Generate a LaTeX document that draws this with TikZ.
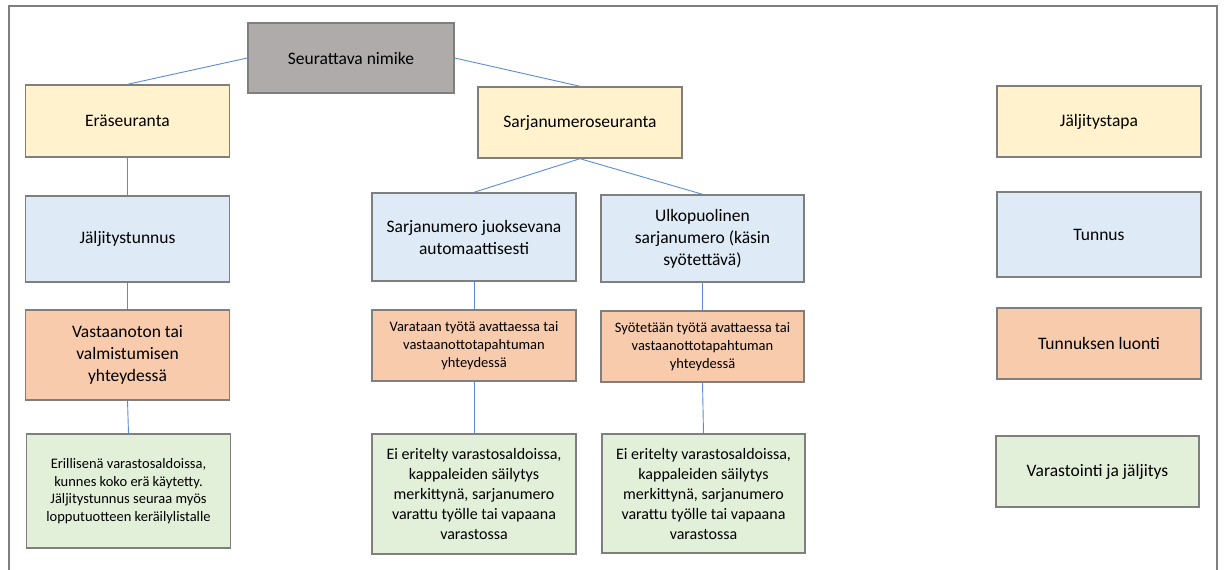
\documentclass[tikz,border=0pt]{standalone}
\usepackage{fontspec}
\setmainfont{Carlito}
\usepackage{xcolor}
\usepackage{tikz}
\usetikzlibrary{positioning}

\definecolor{boxgray}{HTML}{AFABAB}
\definecolor{boxyellow}{HTML}{FFF2CC}
\definecolor{boxblue}{HTML}{DEEBF7}
\definecolor{boxorange}{HTML}{F8CBAD}
\definecolor{boxgreen}{HTML}{E2F0D9}
\definecolor{edgegray}{HTML}{7F7F7F}
\definecolor{linkblue}{HTML}{5B8BD6}

\begin{document}
\begin{tikzpicture}[
    x=1pt, y=-1pt,
    box/.style={rectangle, draw=edgegray, line width=1.4pt, inner sep=2pt,
                minimum width=204pt, align=center,
                font=\fontsize{17.5}{22}\selectfont},
    smalltxt/.style={font=\fontsize{14.5}{17.7}\selectfont},
    midtxt/.style={font=\fontsize{16}{20}\selectfont},
    link/.style={draw=linkblue, line width=0.9pt}
]
\useasboundingbox (0,0) rectangle (1224,570);

% outer frame (open at the bottom)
\draw[edgegray, line width=1.2pt] (9,575) -- (9,6) -- (1217,6) -- (1217,575);

% root
\node[box, fill=boxgray, minimum width=206pt, minimum height=70pt] (root) at (351,58) {Seurattava nimike};

% tracking methods
\node[box, fill=boxyellow, minimum height=72pt] (era)   at (127.5,121) {Eräseuranta};
\node[box, fill=boxyellow, minimum height=71pt] (sarja) at (580,122.5) {Sarjanumeroseuranta};

% identifiers
\node[box, fill=boxblue, minimum height=86pt] (jtunnus) at (127.5,239) {Jäljitystunnus};
\node[box, fill=boxblue, minimum height=88pt] (juoks)   at (474,237)   {Sarjanumero juoksevana\\automaattisesti};
\node[box, fill=boxblue, minimum height=87pt, minimum width=203pt] (ulko) at (702.5,238.5) {Ulkopuolinen\\sarjanumero (käsin\\syötettävä)};

% creation
\node[box, fill=boxorange, minimum height=90pt] (vast) at (127.5,355) {Vastaanoton tai\\valmistumisen\\yhteydessä};
\node[box, fill=boxorange, smalltxt, minimum height=71pt] (varat) at (474,345.5) {Varataan työtä avattaessa tai\\vastaanottotapahtuman\\yhteydessä};
\node[box, fill=boxorange, smalltxt, minimum height=71pt, minimum width=203pt] (syot) at (702.5,346.5) {Syötetään työtä avattaessa tai\\vastaanottotapahtuman\\yhteydessä};

% storage
\node[box, fill=boxgreen, smalltxt, minimum height=114pt] (eril) at (128.5,491) {Erillisenä varastosaldoissa,\\kunnes koko erä käytetty.\\Jäljitystunnus seuraa myös\\lopputuotteen keräilylistalle};
\node[box, fill=boxgreen, midtxt, minimum height=120pt] (eiA) at (474,494) {Ei eritelty varastosaldoissa,\\kappaleiden säilytys\\merkittynä, sarjanumero\\varattu työlle tai vapaana\\varastossa};
\node[box, fill=boxgreen, midtxt, minimum height=119pt, minimum width=203pt] (eiB) at (703.5,493.5) {Ei eritelty varastosaldoissa,\\kappaleiden säilytys\\merkittynä, sarjanumero\\varattu työlle tai vapaana\\varastossa};

% legend column
\node[box, fill=boxyellow, minimum height=71pt] (lgtapa)   at (1099,121.5) {Jäljitystapa};
\node[box, fill=boxblue,   minimum height=85pt] (lgtunnus) at (1099,234.5) {Tunnus};
\node[box, fill=boxorange, minimum height=71pt] (lgluonti) at (1099,343.5) {Tunnuksen luonti};
\node[box, fill=boxgreen,  minimum height=71pt, minimum width=203pt] (lgvarast) at (1097.5,471.5) {Varastointi ja jäljitys};

% connectors
\draw[link] (root.west) -- (era.north);
\draw[link] (root.east) -- (sarja.north);
\draw[link] (sarja.south) -- (juoks.north);
\draw[link] (sarja.south) -- (ulko.north);

\draw[link] (era.south)     -- (jtunnus.north);
\draw[link] (jtunnus.south) -- (vast.north);
\draw[link] (vast.south)    -- (eril.north);
\draw[link] (juoks.south)   -- (varat.north);
\draw[link] (varat.south)   -- (eiA.north);
\draw[link] (ulko.south)    -- (syot.north);
\draw[link] (syot.south)    -- (eiB.north);

\end{tikzpicture}
\end{document}
